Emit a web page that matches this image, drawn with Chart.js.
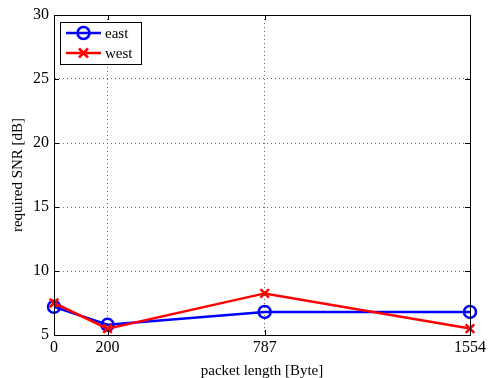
<!DOCTYPE html>
<html>
<head>
<meta charset="utf-8">
<script src="https://cdn.jsdelivr.net/npm/chart.js@4/dist/chart.umd.min.js"></script>
<style>
  html, body { margin: 0; padding: 0; background: #fff; }
  #wrap { width: 493px; height: 378px; }
</style>
</head>
<body>
<div id="wrap"><canvas id="c" width="493" height="378"></canvas></div>
<script>
// packet lengths on x, required SNR on y
const packetLengths = [0, 200, 787, 1554];
const eastSNR = [7.2, 5.8, 6.8, 6.8];
const westSNR = [7.5, 5.5, 8.25, 5.5];
const xTicks = [0, 200, 787, 1554];

const FONT = 'Liberation Serif, Times New Roman, serif';

// frame box + inward tick marks
const boxPlugin = {
    id: 'box',
    afterDraw(chart) {
        const ctx = chart.ctx, a = chart.chartArea;
        const xs = chart.scales.x, ys = chart.scales.y;
        ctx.save();
        ctx.strokeStyle = '#000';
        ctx.lineWidth = 1;
        ctx.strokeRect(a.left + 0.5, a.top + 0.5, a.right - a.left, a.bottom - a.top);
        ctx.beginPath();
        xs.ticks.forEach(t => {
            const x = Math.round(xs.getPixelForValue(t.value)) + 0.5;
            ctx.moveTo(x, a.bottom); ctx.lineTo(x, a.bottom - 5);
            ctx.moveTo(x, a.top); ctx.lineTo(x, a.top + 5);
        });
        ys.ticks.forEach(t => {
            const y = Math.round(ys.getPixelForValue(t.value)) + 0.5;
            ctx.moveTo(a.left, y); ctx.lineTo(a.left + 5, y);
            ctx.moveTo(a.right, y); ctx.lineTo(a.right - 5, y);
        });
        ctx.stroke();

        // legend in top-left corner
        const lx = a.left + 6, ly = a.top + 7, lw = 81, lh = 42;
        ctx.fillStyle = '#fff';
        ctx.fillRect(lx, ly, lw, lh);
        ctx.strokeRect(lx + 0.5, ly + 0.5, lw, lh);
        const rows = [chart.data.datasets[0], chart.data.datasets[1]];
        rows.forEach((ds, i) => {
            const y = ly + 11 + i * 20;
            ctx.strokeStyle = ds.borderColor;
            ctx.lineWidth = 2.5;
            ctx.beginPath();
            ctx.moveTo(lx + 6, y); ctx.lineTo(lx + 41, y);
            ctx.stroke();
            const cx = lx + 23.5;
            ctx.beginPath();
            if (ds.pointStyle === 'circle') {
                ctx.arc(cx, y, 6, 0, Math.PI * 2);
            } else {
                ctx.moveTo(cx - 4.5, y - 4.5); ctx.lineTo(cx + 4.5, y + 4.5);
                ctx.moveTo(cx + 4.5, y - 4.5); ctx.lineTo(cx - 4.5, y + 4.5);
            }
            ctx.stroke();
            ctx.fillStyle = '#000';
            ctx.font = '15px ' + FONT;
            ctx.textBaseline = 'middle';
            ctx.textAlign = 'left';
            ctx.fillText(ds.label, lx + 45, y + 1);
        });
        ctx.restore();
    }
};

new Chart(document.getElementById('c'), {
    type: 'line',
    data: {
        datasets: [{
            label: 'east',
            data: packetLengths.map((x, i) => ({ x: x, y: eastSNR[i] })),
            borderColor: '#0000ff',
            backgroundColor: 'rgba(0,0,0,0)',
            borderWidth: 2.5,
            pointStyle: 'circle',
            pointRadius: 6,
            pointBorderWidth: 2.5,
            order: 1
        }, {
            label: 'west',
            data: packetLengths.map((x, i) => ({ x: x, y: westSNR[i] })),
            borderColor: '#ff0000',
            backgroundColor: '#ff0000',
            borderWidth: 2.5,
            pointStyle: 'crossRot',
            pointRadius: 6,
            pointBorderWidth: 2.5,
            order: 0
        }]
    },
    options: {
        responsive: false,
        animation: false,
        clip: false,
        layout: { padding: { top: 15, right: 23, left: 0, bottom: 0 } },
        plugins: { legend: { display: false }, tooltip: { enabled: false } },
        scales: {
            x: {
                type: 'linear',
                min: 0, max: 1554,
                afterBuildTicks: s => { s.ticks = xTicks.map(v => ({ value: v })); },
                afterFit: s => { s.height = 43; },
                grid: { color: '#666', drawTicks: false, lineWidth: 1 },
                border: { color: '#000', dash: [1, 3] },
                ticks: { color: '#000', font: { family: FONT, size: 16 }, padding: 3, maxRotation: 0, autoSkip: false,
                         callback: v => String(v) },
                title: { display: true, text: 'packet length [Byte]', color: '#000',
                         font: { family: FONT, size: 15 }, padding: { top: 0, bottom: -2 } }
            },
            y: {
                min: 5, max: 30,
                afterFit: s => { s.width = 54; },
                grid: { color: '#666', drawTicks: false, lineWidth: 1 },
                border: { color: '#000', dash: [1, 3] },
                ticks: { stepSize: 5, color: '#000', font: { family: FONT, size: 16 }, padding: 5 },
                title: { display: true, text: 'required SNR [dB]', color: '#000',
                         font: { family: FONT, size: 15 }, padding: { top: 9, bottom: 0 } }
            }
        }
    },
    plugins: [boxPlugin]
});
</script>
</body>
</html>
